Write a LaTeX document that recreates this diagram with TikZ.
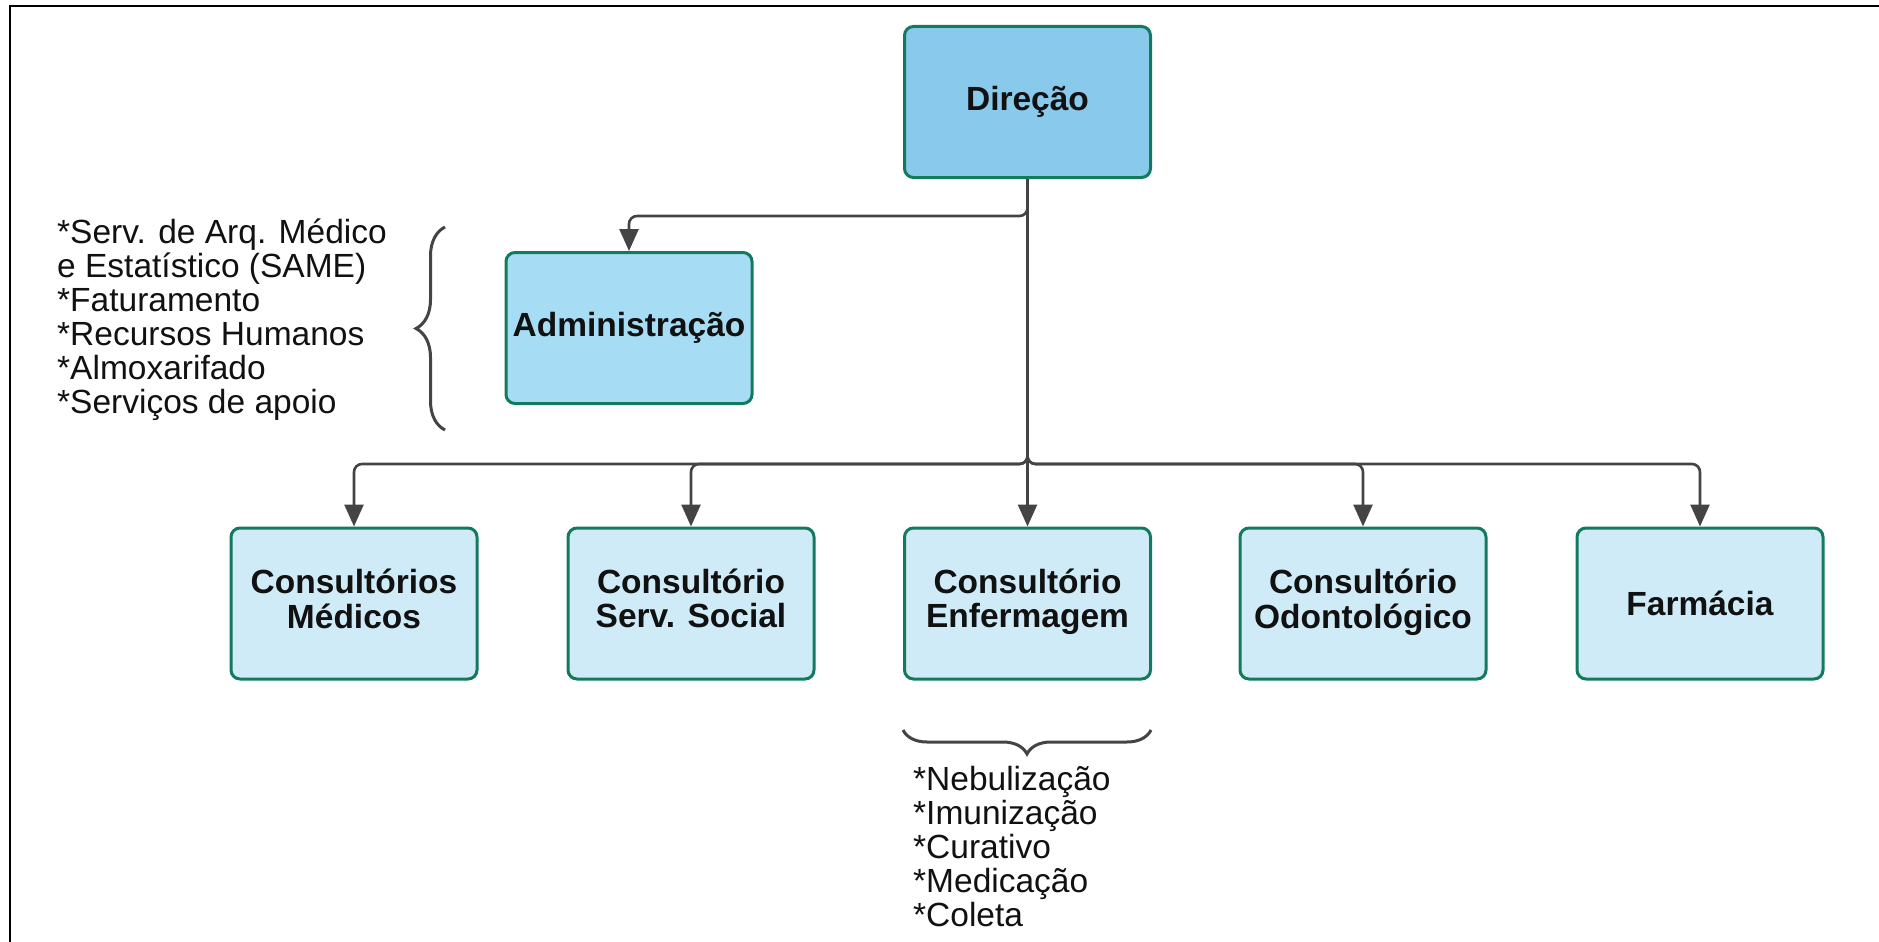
\documentclass[tikz,border=0pt]{standalone}
\usepackage{fontspec}
\setmainfont{Liberation Sans}
\usetikzlibrary{arrows.meta,decorations.pathreplacing,calc}
\definecolor{boxline}{HTML}{137A5E}
\definecolor{fillA}{HTML}{88C9EC}
\definecolor{fillB}{HTML}{A6DDF5}
\definecolor{fillC}{HTML}{D0EBF8}
\definecolor{conncol}{HTML}{444444}
\definecolor{txt}{HTML}{111111}
\newcommand\twolines[1]{\begin{tabular}{@{}c@{}}#1\end{tabular}}
\begin{document}
\begin{tikzpicture}[x=1pt,y=-1pt,
  box/.style={draw=boxline, line width=3pt, rounded corners=9pt,
    minimum width=246pt, minimum height=151pt, inner sep=0pt,
    align=center, text=txt, font=\fontsize{33.5}{34}\selectfont\bfseries},
  conn/.style={draw=conncol, line width=2.6pt, rounded corners=8pt,
    -{Triangle[length=22pt,width=19pt]}},
  brc/.style={draw=conncol, line width=3pt, decorate,
    decoration={brace, amplitude=#1}},
  note/.style={font=\fontsize{33.5}{34}\selectfont, align=left,
    inner sep=0pt, text=txt}]
\useasboundingbox (0,0) rectangle (1879,942);
\fill[white] (0,0) rectangle (1879,942);
% frame
\draw[black, line width=2.5pt] (10,942) -- (10,6) -- (1879,6);
% boxes
\node[box, fill=fillA] (dir) at (1027.5,102) {Direção};
\node[box, fill=fillB] (adm) at (629,328) {Administração};
\node[box, fill=fillC] (med) at (354,603.5) {\twolines{Consultórios\\Médicos}};
\node[box, fill=fillC] (soc) at (691,603.5) {\twolines{Consultório\\Serv. Social}};
\node[box, fill=fillC] (enf) at (1027.5,603.5) {\twolines{Consultório\\Enfermagem}};
\node[box, fill=fillC] (odo) at (1363,603.5) {\twolines{Consultório\\Odontológico}};
\node[box, fill=fillC] (far) at (1700,603.5) {Farmácia};
% junction coordinates
\coordinate (ja) at (1027.5,216);
\coordinate (bus) at (1027.5,464);
% connectors
\draw[conn] (dir.south) -- (ja) -| (adm.north);
\draw[conn] (dir.south) -- (bus) -| (med.north);
\draw[conn] (dir.south) -- (bus) -| (soc.north);
\draw[conn] (dir.south) -- (enf.north);
\draw[conn] (dir.south) -- (bus) -| (odo.north);
\draw[conn] (dir.south) -- (bus) -| (far.north);
% notes
\node[note, anchor=west] (admnote) at (57,320) {*Serv. de Arq. Médico\\e Estatístico (SAME)\\*Faturamento\\*Recursos Humanos\\*Almoxarifado\\*Serviços de apoio};
\node[note, anchor=north west] (enfnote) at (913,766) {*Nebulização\\*Imunização\\*Curativo\\*Medicação\\*Coleta};
% braces
\coordinate (b1) at (445,430);
\coordinate (b2) at (445,227);
\draw[brc=29pt] (b1) -- (b2);
\coordinate (b3) at (1151,730);
\coordinate (b4) at (903,730);
\draw[brc=24pt] (b3) -- (b4);
\end{tikzpicture}
\end{document}
